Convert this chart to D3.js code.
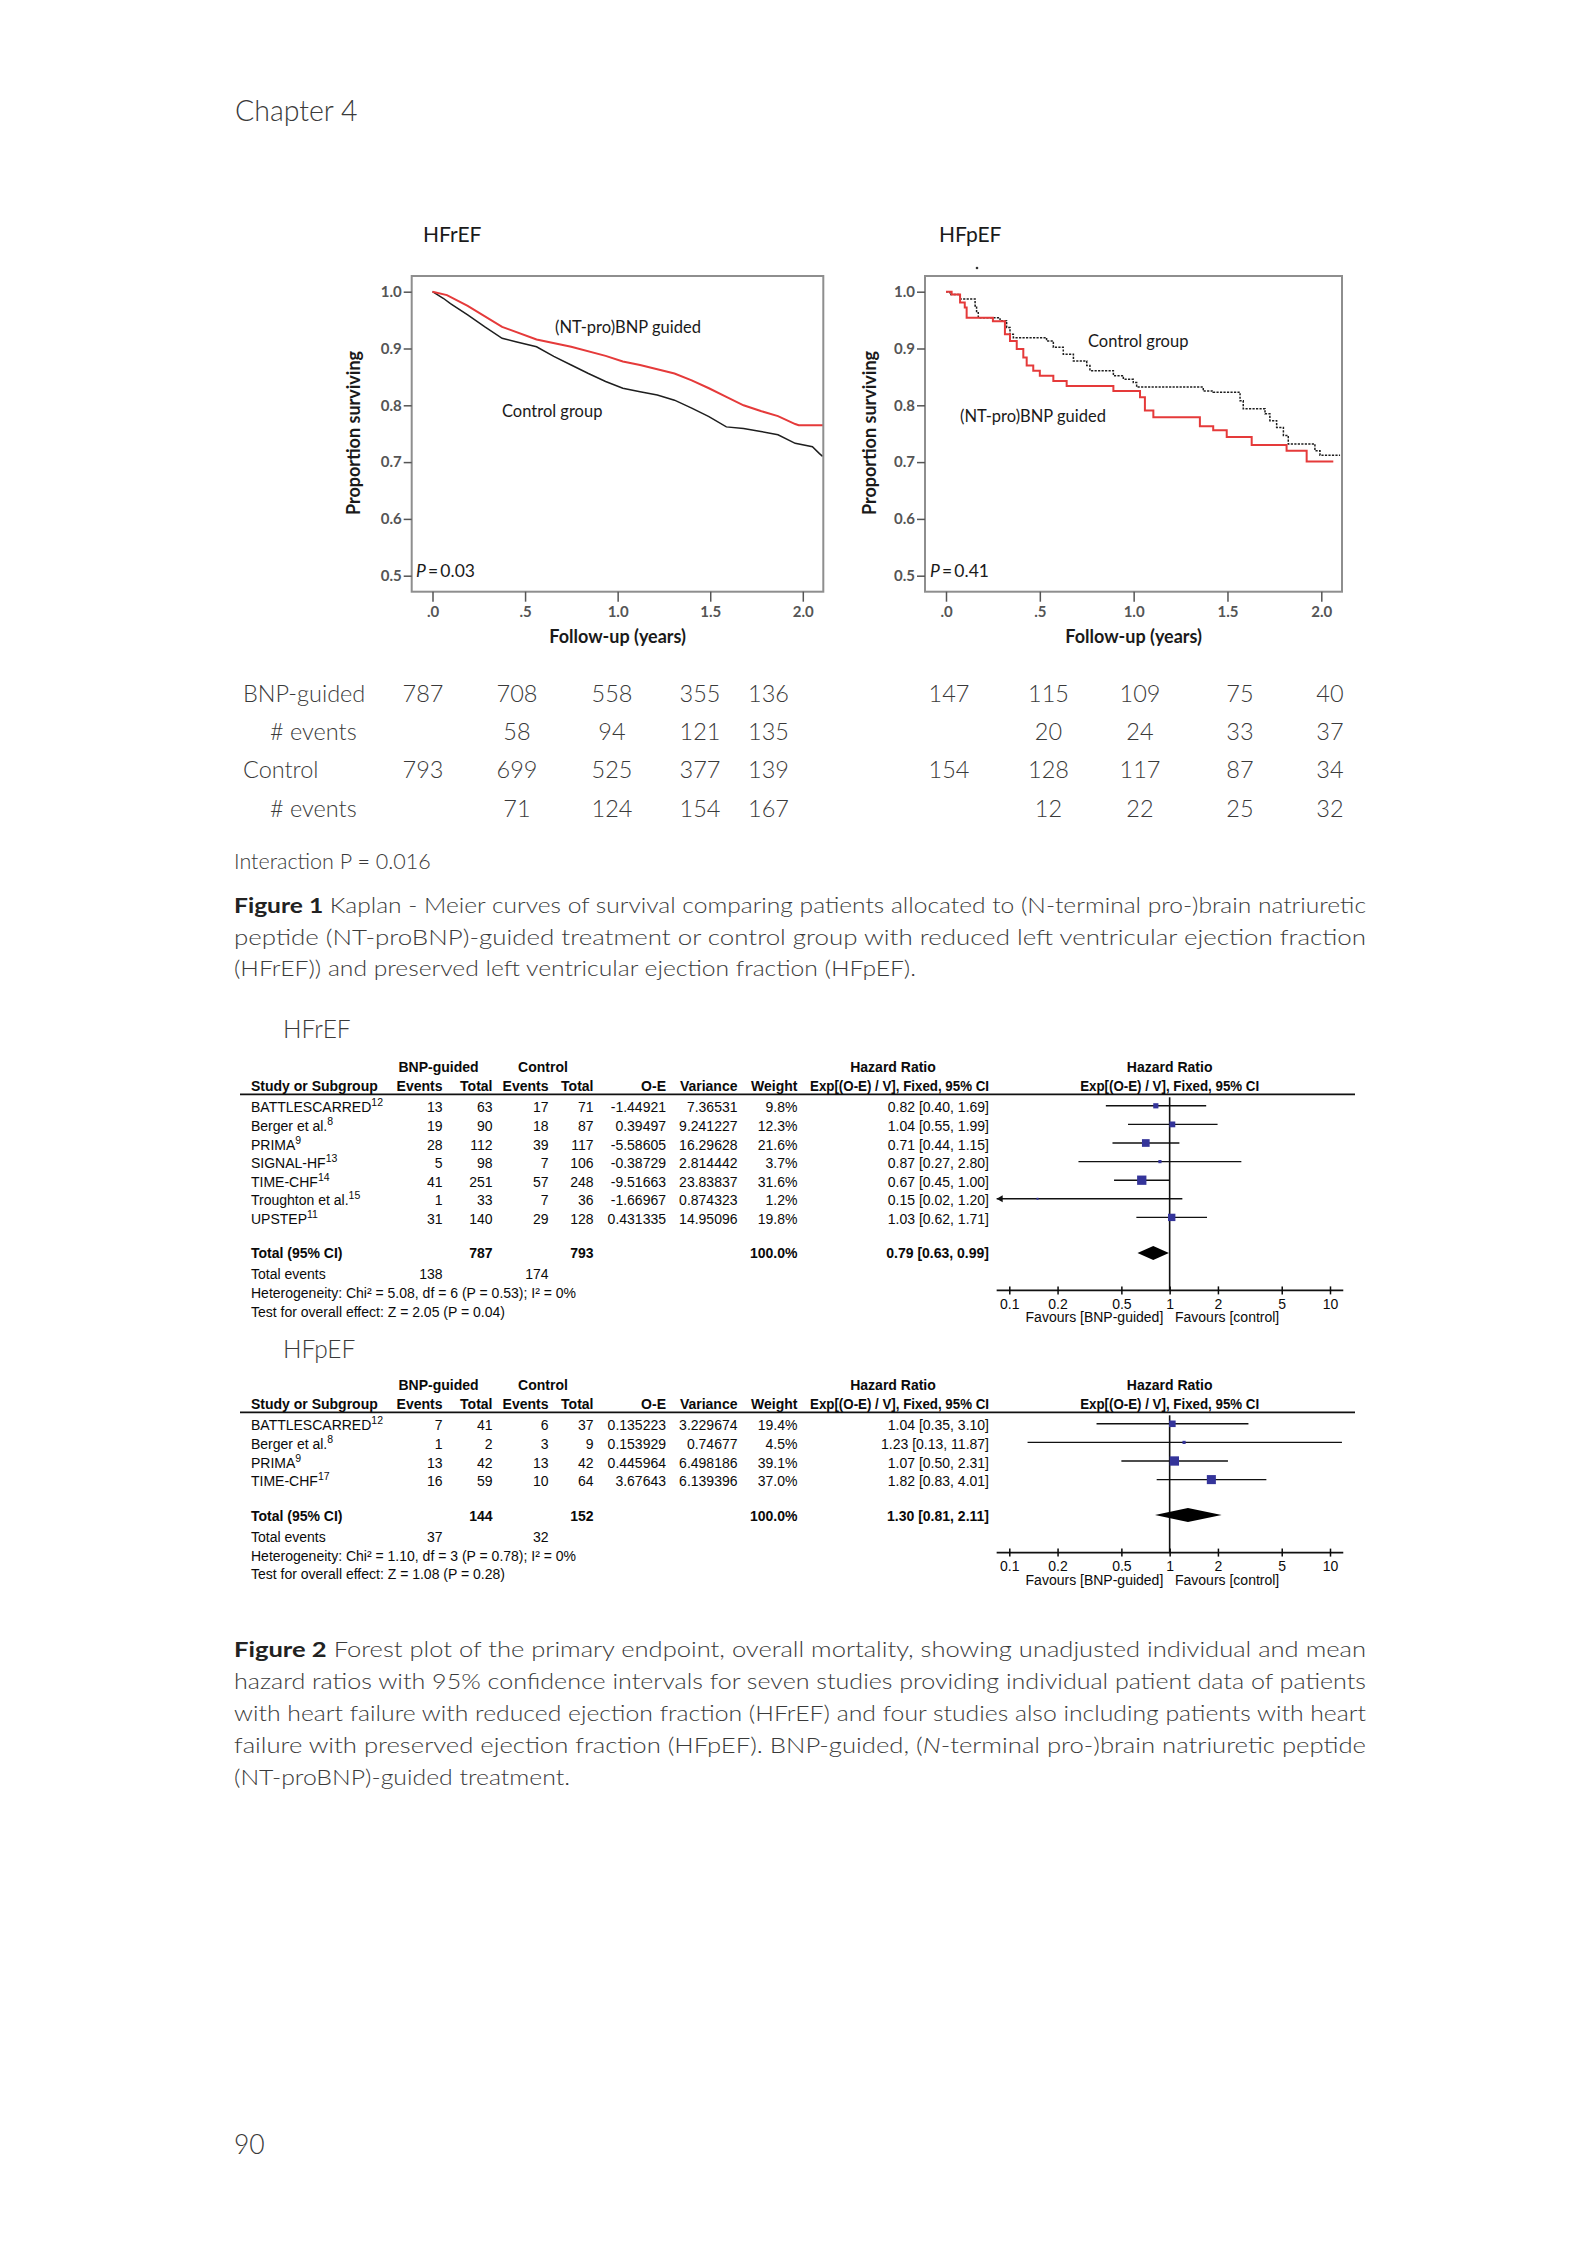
<!DOCTYPE html>
<html>
<head>
<meta charset="utf-8">
<script src="https://cdn.jsdelivr.net/npm/d3@7"></script>
<style>
  body { margin: 0; background: #fff; }
  svg { display: block; }
  .body { font-family: Lato, "Open Sans", sans-serif; font-weight: 300; fill: #3a3a3a; }
  .km { font-family: Lato, "Open Sans", sans-serif; fill: #1a1a1a; }
  .fp { font-family: "Liberation Sans", Arial, sans-serif; font-size: 14px; fill: #0a0a0a; }
  .fp .b { font-weight: bold; }
</style>
</head>
<body>
<div id="page"></div>
<script>
// ---- Kaplan-Meier axes ----
const kmYTicks = [0.5, 0.6, 0.7, 0.8, 0.9, 1.0];
const kmXTicks = [0, 0.5, 1, 1.5, 2];
const kmXLabels = [".0", ".5", "1.0", "1.5", "2.0"];

// HFrEF survival
const hfrefBnpT = [0, 0.078, 0.19, 0.376, 0.562, 0.749, 0.935, 1.028, 1.121, 1.307, 1.4, 1.493, 1.587, 1.68, 1.773, 1.866, 1.959, 1.978, 2.11];
const hfrefBnpS = [1.0, 0.994, 0.975, 0.938, 0.916, 0.903, 0.887, 0.877, 0.871, 0.856, 0.844, 0.83, 0.815, 0.8, 0.79, 0.781, 0.767, 0.765, 0.765];
const hfrefCtrlT = [0, 0.06, 0.097, 0.19, 0.283, 0.376, 0.45, 0.562, 0.655, 0.749, 0.842, 0.935, 1.028, 1.121, 1.214, 1.307, 1.4, 1.493, 1.587, 1.68, 1.773, 1.866, 1.959, 2.052, 2.09, 2.107];
const hfrefCtrlS = [1.0, 0.988, 0.979, 0.959, 0.938, 0.918, 0.912, 0.903, 0.886, 0.871, 0.856, 0.842, 0.83, 0.824, 0.818, 0.809, 0.795, 0.78, 0.762, 0.759, 0.754, 0.748, 0.733, 0.727, 0.715, 0.71];

// HFpEF survival (step curves)
const hfpefBnpT = [0, 0.03, 0.075, 0.1, 0.11, 0.25, 0.314, 0.341, 0.377, 0.412, 0.43, 0.465, 0.5, 0.572, 0.643, 0.892, 1.034, 1.06, 1.105, 1.353, 1.424, 1.496, 1.629, 1.815, 1.922, 2.064];
const hfpefBnpS = [1.0, 0.995, 0.981, 0.972, 0.954, 0.948, 0.925, 0.913, 0.899, 0.884, 0.87, 0.861, 0.852, 0.843, 0.834, 0.825, 0.814, 0.791, 0.779, 0.763, 0.756, 0.744, 0.73, 0.72, 0.701, 0.701];
const hfpefCtrlT = [0, 0.021, 0.075, 0.155, 0.163, 0.172, 0.288, 0.323, 0.341, 0.359, 0.536, 0.572, 0.625, 0.679, 0.75, 0.767, 0.892, 0.945, 0.998, 1.016, 1.371, 1.424, 1.567, 1.584, 1.7, 1.726, 1.762, 1.798, 1.824, 1.966, 1.993, 2.1];
const hfpefCtrlS = [1.0, 0.995, 0.987, 0.975, 0.963, 0.954, 0.949, 0.937, 0.925, 0.919, 0.913, 0.902, 0.89, 0.878, 0.87, 0.861, 0.852, 0.846, 0.84, 0.832, 0.825, 0.823, 0.808, 0.794, 0.785, 0.773, 0.761, 0.747, 0.732, 0.72, 0.712, 0.712];

// numbers at risk / events
const riskLabels = ["BNP-guided", "# events", "Control", "# events"];
const hfrefRisk = [[787, 708, 558, 355, 136], [null, 58, 94, 121, 135], [793, 699, 525, 377, 139], [null, 71, 124, 154, 167]];
const hfpefRisk = [[147, 115, 109, 75, 40], [null, 20, 24, 33, 37], [154, 128, 117, 87, 34], [null, 12, 22, 25, 32]];

// ---- forest plots ----
const fpTicks = [0.1, 0.2, 0.5, 1, 2, 5, 10];

const hfrefStudies = ["BATTLESCARRED", "Berger et al.", "PRIMA", "SIGNAL-HF", "TIME-CHF", "Troughton et al.", "UPSTEP"];
const hfrefRefs = ["12", "8", "9", "13", "14", "15", "11"];
const hfrefBnpEv = [13, 19, 28, 5, 41, 1, 31];
const hfrefBnpTot = [63, 90, 112, 98, 251, 33, 140];
const hfrefCtrlEv = [17, 18, 39, 7, 57, 7, 29];
const hfrefCtrlTot = [71, 87, 117, 106, 248, 36, 128];
const hfrefOE = ["-1.44921", "0.39497", "-5.58605", "-0.38729", "-9.51663", "-1.66967", "0.431335"];
const hfrefVar = ["7.36531", "9.241227", "16.29628", "2.814442", "23.83837", "0.874323", "14.95096"];
const hfrefWeight = [9.8, 12.3, 21.6, 3.7, 31.6, 1.2, 19.8];
const hfrefHR = [0.82, 1.04, 0.71, 0.87, 0.67, 0.15, 1.03];
const hfrefLo = [0.40, 0.55, 0.44, 0.27, 0.45, 0.02, 0.62];
const hfrefHi = [1.69, 1.99, 1.15, 2.80, 1.00, 1.20, 1.71];
const hfrefTotal = { bnpTot: 787, ctrlTot: 793, bnpEv: 138, ctrlEv: 174, hr: 0.79, lo: 0.63, hi: 0.99 };
const hfrefHet = "Heterogeneity: Chi\u00b2 = 5.08, df = 6 (P = 0.53); I\u00b2 = 0%";
const hfrefTest = "Test for overall effect: Z = 2.05 (P = 0.04)";

const hfpefStudies = ["BATTLESCARRED", "Berger et al.", "PRIMA", "TIME-CHF"];
const hfpefRefs = ["12", "8", "9", "17"];
const hfpefBnpEv = [7, 1, 13, 16];
const hfpefBnpTot = [41, 2, 42, 59];
const hfpefCtrlEv = [6, 3, 13, 10];
const hfpefCtrlTot = [37, 9, 42, 64];
const hfpefOE = ["0.135223", "0.153929", "0.445964", "3.67643"];
const hfpefVar = ["3.229674", "0.74677", "6.498186", "6.139396"];
const hfpefWeight = [19.4, 4.5, 39.1, 37.0];
const hfpefHR = [1.04, 1.23, 1.07, 1.82];
const hfpefLo = [0.35, 0.13, 0.50, 0.83];
const hfpefHi = [3.10, 11.87, 2.31, 4.01];
const hfpefTotal = { bnpTot: 144, ctrlTot: 152, bnpEv: 37, ctrlEv: 32, hr: 1.30, lo: 0.81, hi: 2.11 };
const hfpefHet = "Heterogeneity: Chi\u00b2 = 1.10, df = 3 (P = 0.78); I\u00b2 = 0%";
const hfpefTest = "Test for overall effect: Z = 1.08 (P = 0.28)";

// ---- captions ----
const fig1Lines = [
  [["Figure 1", "bold"], [" Kaplan - Meier curves of survival comparing patients allocated to (N-terminal pro-)brain natriuretic", ""]],
  [["peptide (NT-proBNP)-guided treatment or control group with reduced left ventricular ejection fraction", ""]],
  [["(HFrEF)) and preserved left ventricular ejection fraction (HFpEF).", ""]]
];
const fig2Lines = [
  [["Figure 2", "bold"], [" Forest plot of the primary endpoint, overall mortality, showing unadjusted individual and mean", ""]],
  [["hazard ratios with 95% confidence intervals for seven studies providing individual patient data of patients", ""]],
  [["with heart failure with reduced ejection fraction (HFrEF) and four studies also including patients with heart", ""]],
  [["failure with preserved ejection fraction (HFpEF). BNP-guided, (", ""], ["N", "italic"], ["-terminal pro-)brain natriuretic peptide", ""]],
  [["(NT-proBNP)-guided treatment.", ""]]
];

const W = 1594, H = 2250;
const svg = d3.select("#page").append("svg").attr("width", W).attr("height", H);
svg.append("rect").attr("width", W).attr("height", H).attr("fill", "#fff");

// page header / footer
svg.append("text").attr("class", "body").attr("x", 235).attr("y", 120.7)
  .attr("font-size", 28.5).attr("fill", "#4a4a4a").text("Chapter 4");
svg.append("text").attr("class", "body").attr("x", 234).attr("y", 2154)
  .attr("font-size", 26.5).attr("fill", "#4a4a4a").text("90");

// ---------------- Kaplan-Meier panels ----------------
const kmPanels = [
  { title: "HFrEF", titleX: 423, l: 411.7, r: 823.3, x0: 432.5, x2: 802.8, ylab: 354,
    bnp: d3.zip(hfrefBnpT, hfrefBnpS), ctrl: d3.zip(hfrefCtrlT, hfrefCtrlS), curve: d3.curveLinear, dash: null,
    notes: [["(NT-pro)BNP guided", 555, 333.3], ["Control group", 502, 416.7]], p: "0.03", px: 416 },
  { title: "HFpEF", titleX: 939, l: 925, r: 1342, x0: 946, x2: 1321.3, ylab: 870,
    bnp: d3.zip(hfpefBnpT, hfpefBnpS), ctrl: d3.zip(hfpefCtrlT, hfpefCtrlS), curve: d3.curveStepAfter, dash: "2.2,1.3",
    notes: [["Control group", 1088, 347], ["(NT-pro)BNP guided", 960, 422]], p: "0.41", px: 930 }
];
const kmTop = 276, kmBot = 591.7;

kmPanels.forEach(p => {
  const g = svg.append("g");
  const x = d3.scaleLinear().domain([0, 2]).range([p.x0, p.x2]);
  const y = d3.scaleLinear().domain([0.5, 1]).range([575.7, 291.7]);

  g.append("text").attr("class", "km").attr("x", p.titleX).attr("y", 241.7)
    .attr("font-size", 21).attr("fill", "#111").text(p.title);

  const line = d3.line().x(d => x(d[0])).y(d => y(d[1])).curve(p.curve);
  g.append("path").datum(p.ctrl).attr("d", line).attr("fill", "none")
    .attr("stroke", "#1e1e1e").attr("stroke-width", 1.5)
    .attr("stroke-dasharray", p.dash);
  g.append("path").datum(p.bnp).attr("d", line).attr("fill", "none")
    .attr("stroke", "#e53a3a").attr("stroke-width", 2);

  g.append("rect").attr("x", p.l).attr("y", kmTop)
    .attr("width", p.r - p.l).attr("height", kmBot - kmTop)
    .attr("fill", "none").attr("stroke", "#8e8e8e").attr("stroke-width", 2);

  const ya = g.append("g").attr("transform", `translate(${p.l},0)`)
    .call(d3.axisLeft(y).tickValues(kmYTicks).tickFormat(d3.format(".1f")).tickSize(8).tickPadding(2));
  const xa = g.append("g").attr("transform", `translate(0,${kmBot})`)
    .call(d3.axisBottom(x).tickValues(kmXTicks).tickFormat((d, i) => kmXLabels[i]).tickSize(10).tickPadding(5));
  [ya, xa].forEach(a => {
    a.select(".domain").remove();
    a.attr("color", "#555").attr("font-family", "Lato, 'Open Sans', sans-serif")
      .attr("font-size", 15).attr("font-weight", "bold");
    a.selectAll(".tick line").attr("stroke-width", 1.5);
  });

  g.append("text").attr("class", "km").attr("font-size", 18).attr("font-weight", "bold")
    .attr("text-anchor", "middle").attr("transform", `translate(${p.ylab + 6},433) rotate(-90)`)
    .text("Proportion surviving");
  g.append("text").attr("class", "km").attr("font-size", 18).attr("font-weight", "bold")
    .attr("text-anchor", "middle").attr("x", (p.x0 + p.x2) / 2).attr("y", 643)
    .text("Follow-up (years)");

  p.notes.forEach(n => {
    g.append("text").attr("class", "km").attr("font-size", 16.5)
      .attr("x", n[1]).attr("y", n[2]).text(n[0]);
  });
  const pt = g.append("text").attr("class", "km").attr("font-size", 17.5).attr("x", p.px).attr("y", 577);
  pt.append("tspan").attr("font-style", "italic").text("P");
  pt.append("tspan").text("\u2009=\u2009" + p.p);
});
// stray mark above HFpEF panel
svg.append("circle").attr("cx", 977).attr("cy", 268).attr("r", 1.3).attr("fill", "#333");

// ---------------- numbers at risk ----------------
const riskRowsY = [702, 740, 778, 817];
const riskLabelX = [243, 270, 243, 270];
const hfrefRiskX = [423, 517, 612, 700, 768.5];
const hfpefRiskX = [949, 1048.5, 1140, 1240, 1330];
riskLabels.forEach((lab, i) => {
  svg.append("text").attr("class", "body").attr("font-size", 23.5).attr("fill", "#2e2e2e")
    .attr("x", riskLabelX[i]).attr("y", riskRowsY[i]).text(lab);
});
[[hfrefRisk, hfrefRiskX], [hfpefRisk, hfpefRiskX]].forEach(([tbl, xs]) => {
  tbl.forEach((row, i) => {
    svg.selectAll(null).data(row.map((v, j) => [v, xs[j]]).filter(d => d[0] !== null))
      .join("text").attr("class", "body").attr("font-size", 23.5).attr("fill", "#2e2e2e")
      .attr("text-anchor", "middle").attr("x", d => d[1]).attr("y", riskRowsY[i])
      .text(d => d[0]);
  });
});

svg.append("text").attr("class", "body").attr("font-size", 21.5).attr("x", 234).attr("y", 869.3)
  .text("Interaction P = 0.016");

// captions
function caption(lines, y0, ends) {
  lines.forEach((parts, i) => {
    const t = svg.append("text").attr("class", "body").attr("font-size", 21.5)
      .attr("x", 234).attr("y", y0 + i * 31.8)
      .attr("textLength", ends[i] - 234).attr("lengthAdjust", "spacingAndGlyphs");
    parts.forEach(([s, st]) => {
      const ts = t.append("tspan").text(s);
      if (st === "bold") ts.attr("font-weight", "bold").attr("fill", "#222");
      if (st === "italic") ts.attr("font-style", "italic");
    });
  });
}
caption(fig1Lines, 912.7, [1366, 1366, 916]);
caption(fig2Lines, 1657.3, [1366, 1366, 1366, 1366, 570]);

// ---------------- forest plots ----------------
const col = { name: 251, bnpEv: 442.5, bnpTot: 492.5, ctrlEv: 548.5, ctrlTot: 593.5, oe: 666, v: 737.5, w: 797.5, hr: 989 };
const fx = d3.scaleLog().domain([0.1, 10]).range([1009.3, 1330]);
const fxMin = 0.0834, fxMax = 12.1;
const fmt2 = d3.format(".2f");
const hrText = (h, l, u) => `${fmt2(h)} [${fmt2(l)}, ${fmt2(u)}]`;
const hrHead = "Exp[(O-E) / V], Fixed, 95% CI";

const forests = [
  { label: "HFrEF", labelY: 1038, lineY: 1094.3, studies: hfrefStudies, refs: hfrefRefs,
    bnpEv: hfrefBnpEv, bnpTot: hfrefBnpTot, ctrlEv: hfrefCtrlEv, ctrlTot: hfrefCtrlTot,
    oe: hfrefOE, v: hfrefVar, w: hfrefWeight, hr: hfrefHR, lo: hfrefLo, hi: hfrefHi,
    total: hfrefTotal, het: hfrefHet, test: hfrefTest },
  { label: "HFpEF", labelY: 1358, lineY: 1412.3, studies: hfpefStudies, refs: hfpefRefs,
    bnpEv: hfpefBnpEv, bnpTot: hfpefBnpTot, ctrlEv: hfpefCtrlEv, ctrlTot: hfpefCtrlTot,
    oe: hfpefOE, v: hfpefVar, w: hfpefWeight, hr: hfpefHR, lo: hfpefLo, hi: hfpefHi,
    total: hfpefTotal, het: hfpefHet, test: hfpefTest }
];

forests.forEach(f => {
  const g = svg.append("g").attr("class", "fp");
  const top = f.lineY;
  const rowY = i => top + 18 + i * 18.6;
  const n = f.studies.length;
  const totY = rowY(n - 1) + 34.5;
  const axisY = totY + 32;
  const size = d3.scaleSqrt().domain([0, d3.max(f.w)]).range([0, 9.3]);

  svg.append("text").attr("class", "body").attr("font-size", 24.5).attr("fill", "#4a4a4a")
    .attr("x", 283).attr("y", f.labelY).text(f.label);

  const txt = (x, y, s, anchor, bold) => g.append("text").attr("x", x).attr("y", y)
    .attr("text-anchor", anchor || "start").attr("class", bold ? "b" : null).text(s);

  // header
  const h1 = top - 22.6, h2 = top - 3.7;
  txt((col.bnpEv + col.bnpTot) / 2 - 29, h1, "BNP-guided", "middle", true);
  txt((col.ctrlEv + col.ctrlTot) / 2 - 28, h1, "Control", "middle", true);
  txt(893, h1, "Hazard Ratio", "middle", true);
  txt(fx(1), h1, "Hazard Ratio", "middle", true);
  txt(col.name, h2, "Study or Subgroup", "start", true);
  txt(col.bnpEv, h2, "Events", "end", true);
  txt(col.bnpTot, h2, "Total", "end", true);
  txt(col.ctrlEv, h2, "Events", "end", true);
  txt(col.ctrlTot, h2, "Total", "end", true);
  txt(col.oe, h2, "O-E", "end", true);
  txt(col.v, h2, "Variance", "end", true);
  txt(col.w, h2, "Weight", "end", true);
  txt(col.hr, h2, hrHead, "end", true).attr("textLength", 179).attr("lengthAdjust", "spacingAndGlyphs");
  txt(fx(1), h2, hrHead, "middle", true).attr("textLength", 179).attr("lengthAdjust", "spacingAndGlyphs");
  g.append("line").attr("x1", 240).attr("x2", 1355).attr("y1", top).attr("y2", top)
    .attr("stroke", "#111").attr("stroke-width", 1.7);

  // study rows
  f.studies.forEach((s, i) => {
    const y = rowY(i);
    const t = txt(col.name, y, s);
    t.append("tspan").attr("font-size", 10.5).attr("dy", -6).text(f.refs[i]);
    txt(col.bnpEv, y, f.bnpEv[i], "end");
    txt(col.bnpTot, y, f.bnpTot[i], "end");
    txt(col.ctrlEv, y, f.ctrlEv[i], "end");
    txt(col.ctrlTot, y, f.ctrlTot[i], "end");
    txt(col.oe, y, f.oe[i], "end");
    txt(col.v, y, f.v[i], "end");
    txt(col.w, y, d3.format(".1f")(f.w[i]) + "%", "end");
    txt(col.hr, y, hrText(f.hr[i], f.lo[i], f.hi[i]), "end");
  });

  // totals
  txt(col.name, totY, "Total (95% CI)", "start", true);
  txt(col.bnpTot, totY, f.total.bnpTot, "end", true);
  txt(col.ctrlTot, totY, f.total.ctrlTot, "end", true);
  txt(col.w, totY, "100.0%", "end", true);
  txt(col.hr, totY, hrText(f.total.hr, f.total.lo, f.total.hi), "end", true);
  txt(col.name, totY + 21, "Total events");
  txt(col.bnpEv, totY + 21, f.total.bnpEv, "end");
  txt(col.ctrlEv, totY + 21, f.total.ctrlEv, "end");
  txt(col.name, totY + 40, f.het);
  txt(col.name, totY + 58.7, f.test);

  // plot: null line
  g.append("line").attr("x1", fx(1)).attr("x2", fx(1)).attr("y1", top + 3).attr("y2", axisY)
    .attr("stroke", "#111").attr("stroke-width", 1.6);

  // CIs and squares
  f.studies.forEach((s, i) => {
    const y = rowY(i) - 6.5;
    const lo = Math.max(f.lo[i], fxMin), hi = Math.min(f.hi[i], fxMax);
    g.append("line").attr("x1", fx(lo)).attr("x2", fx(hi)).attr("y1", y).attr("y2", y)
      .attr("stroke", "#111").attr("stroke-width", 1.4);
    if (f.lo[i] < fxMin) {
      const ax = fx(fxMin);
      g.append("path").attr("d", `M${ax},${y} l6,-3.5 l0,7 z`).attr("fill", "#111");
    }
    const sz = Math.max(size(f.w[i]), 2);
    g.append("rect").attr("x", fx(f.hr[i]) - sz / 2).attr("y", y - sz / 2)
      .attr("width", sz).attr("height", sz).attr("fill", "#34349a");
  });

  // diamond
  const dy = totY - 5.5, dh = 7;
  g.append("path").attr("d",
    `M${fx(f.total.lo)},${dy} L${fx(f.total.hr)},${dy - dh} L${fx(f.total.hi)},${dy} L${fx(f.total.hr)},${dy + dh} Z`)
    .attr("fill", "#000");

  // axis
  g.append("line").attr("x1", fx(fxMin)).attr("x2", fx(fxMax)).attr("y1", axisY).attr("y2", axisY)
    .attr("stroke", "#111").attr("stroke-width", 1.6);
  const a = g.append("g").attr("transform", `translate(0,${axisY})`)
    .call(d3.axisBottom(fx).tickValues(fpTicks).tickFormat(d => d).tickSize(4).tickPadding(4.5));
  a.select(".domain").remove();
  a.attr("font-family", "'Liberation Sans', Arial, sans-serif").attr("font-size", 14).attr("color", "#0a0a0a");
  a.selectAll(".tick line").attr("y1", -4).attr("stroke-width", 1.5);
  txt(1163.3, axisY + 32, "Favours [BNP-guided]", "end");
  txt(1175, axisY + 32, "Favours [control]", "start");
});
</script>
</body>
</html>
